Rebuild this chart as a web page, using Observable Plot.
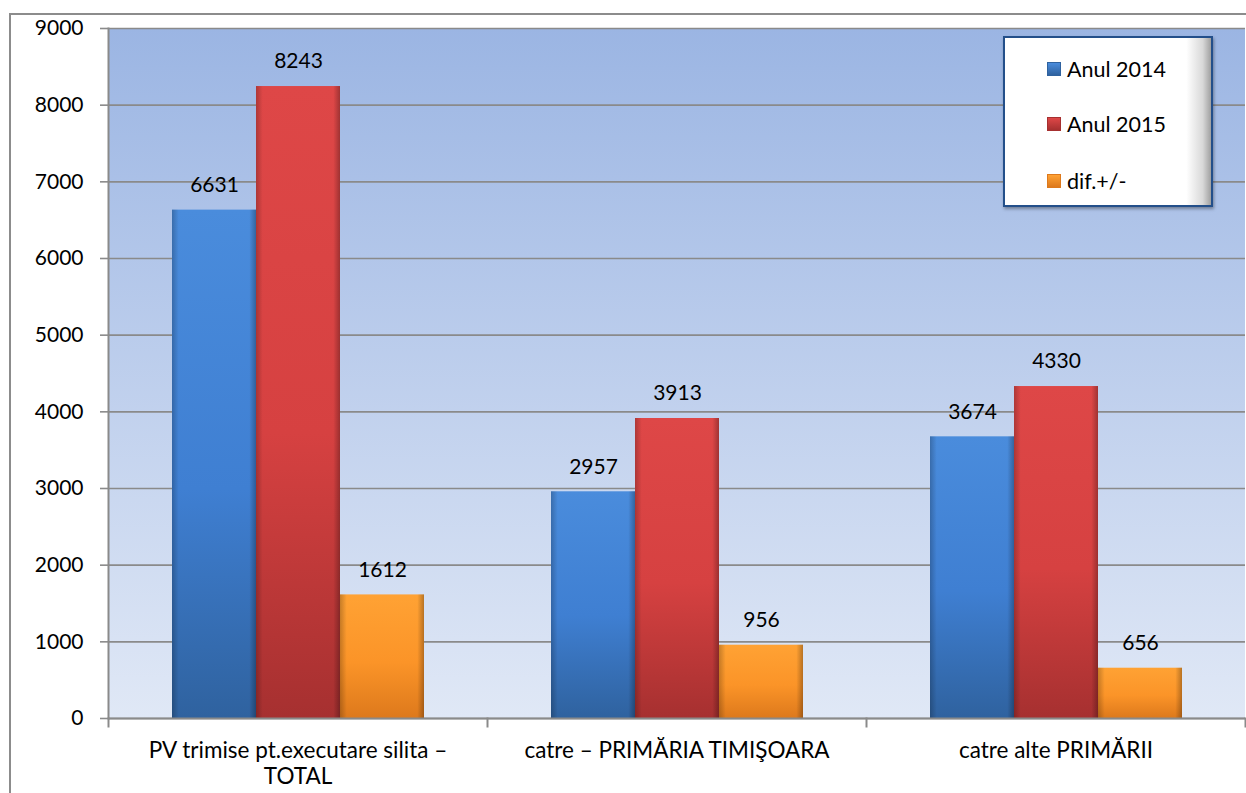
<!DOCTYPE html>
<html>
<head>
<meta charset="utf-8">
<script src="https://cdn.jsdelivr.net/npm/d3@7"></script>
<script src="https://cdn.jsdelivr.net/npm/@observablehq/plot@0.6"></script>
<style>
  html, body { margin: 0; padding: 0; background: #fff; }
  #wrap { position: relative; width: 1246px; height: 793px; overflow: hidden; font-family: Lato, "Open Sans", sans-serif; }
  #border { position: absolute; left: 9px; top: 13px; width: 1260px; height: 820px; border: 2px solid #8c8c8c; box-sizing: border-box; }
  #bg { position: absolute; left: 108px; top: 28px; width: 1137px; height: 690px; background: linear-gradient(to bottom, #9bb5e3, #e0e8f6); }
  #chart { position: absolute; left: 0; top: 0; }
  #legend { position: absolute; left: 1003px; top: 36px; width: 210px; height: 171px; box-sizing: border-box;
            border: 2.5px solid #234f8a; background: linear-gradient(to right, #ffffff 0%, #ffffff 88%, #d8d8d8 96%, #a0a0a0 100%);
            box-shadow: 1px 2px 3px rgba(0,0,0,0.35); }
  .item { position: absolute; left: 42px; display: flex; align-items: center; font-size: 21.5px; color: #000; }
  .sw { width: 14px; height: 14px; margin-right: 6px; box-sizing: border-box; }
</style>
</head>
<body>
<div id="wrap">
  <div id="border"></div>
  <div id="bg"></div>
  <div id="chart"></div>
  <div id="legend"></div>
</div>
<script>
// ---- data ----
const categories = ["PV trimise pt.executare silita –\nTOTAL", "catre – PRIMĂRIA TIMIŞOARA", "catre alte PRIMĂRII"];
const series = ["Anul 2014", "Anul 2015", "dif.+/-"];
const values2014 = [6631, 2957, 3674];
const values2015 = [8243, 3913, 4330];
const valuesDif = [1612, 956, 656];
const yTicks = [0, 1000, 2000, 3000, 4000, 5000, 6000, 7000, 8000, 9000];

const seriesValues = [values2014, values2015, valuesDif];
const data = categories.flatMap((c, i) => series.map((s, j) => ({cat: c, series: s, value: seriesValues[j][i]})));

const gradIds = ["gBlue", "gRed", "gOrange"];
const gradStops = [
  ["#4a8cdc", "#3f7fd2", "#2f629f"],
  ["#de4747", "#d64141", "#a63030"],
  ["#ffa234", "#fb9428", "#dd791c"]
];

const grid = "#8a8a8a";

const chart = Plot.plot({
  width: 1246,
  height: 793,
  marginLeft: 108,
  marginRight: 1,
  marginTop: 28,
  marginBottom: 75,
  style: {fontFamily: "Lato, 'Open Sans', sans-serif", fontSize: "21px", color: "#000", background: "transparent", overflow: "visible"},
  fx: {domain: categories, padding: 0, label: null},
  x: {domain: series, paddingInner: 0, paddingOuter: 0.75, axis: null},
  y: {domain: [0, 9000], label: null},
  color: {domain: series, range: gradIds.map(id => `url(#${id})`)},
  marks: [
    Plot.gridY(yTicks, {stroke: grid, strokeOpacity: 1, strokeWidth: 1.6}),
    Plot.barY(data, {fx: "cat", x: "series", y: "value", fill: "series", ariaLabel: "bars"}),
    Plot.barY(data, {fx: "cat", x: "series", y: "value", fill: "url(#gEdge)", ariaLabel: "bevel"}),
    Plot.ruleY([0], {stroke: grid, strokeWidth: 2}),
    Plot.text(data, {fx: "cat", x: "series", y: "value", text: d => String(d.value), dy: -25, fontSize: 21, fill: "#000"}),
    Plot.axisY(yTicks, {tickSize: 8, tickPadding: 17, fontSize: 21, stroke: grid, strokeWidth: 1.6, fill: "#000", label: null, tickFormat: d => String(d)}),
    Plot.axisFx({anchor: "bottom", tickSize: 0, tickPadding: 22, fontSize: 22.5, lineHeight: 1.12, fill: "#000", label: null}),
    Plot.frame({anchor: "left", facetAnchor: "left", stroke: grid, strokeWidth: 2}),
    Plot.frame({anchor: "left", insetTop: 690, insetBottom: -8, stroke: grid, strokeWidth: 2}),
    Plot.frame({anchor: "right", facetAnchor: "right", insetTop: 690, insetBottom: -8, stroke: grid, strokeWidth: 2})
  ]
});

// gradients
const ns = "http://www.w3.org/2000/svg";
const defs = document.createElementNS(ns, "defs");
function linGrad(id, stops, horizontal) {
  const g = document.createElementNS(ns, "linearGradient");
  g.setAttribute("id", id);
  g.setAttribute("x1", "0"); g.setAttribute("y1", "0");
  g.setAttribute("x2", horizontal ? "1" : "0"); g.setAttribute("y2", horizontal ? "0" : "1");
  stops.forEach(([off, col, op]) => {
    const s = document.createElementNS(ns, "stop");
    s.setAttribute("offset", off);
    s.setAttribute("stop-color", col);
    if (op != null) s.setAttribute("stop-opacity", op);
    g.appendChild(s);
  });
  defs.appendChild(g);
}
gradIds.forEach((id, i) => linGrad(id, [["0", gradStops[i][0]], ["0.55", gradStops[i][1]], ["1", gradStops[i][2]]]));
linGrad("gEdge", [["0", "#000", 0.22], ["0.08", "#000", 0.0], ["0.92", "#000", 0.0], ["1", "#000", 0.28]], true);
chart.insertBefore(defs, chart.firstChild);

chart.querySelectorAll('g[aria-label="bars"]').forEach(g => g.style.filter = "drop-shadow(2px 3px 2px rgba(0,0,0,0.35))");

document.getElementById("chart").appendChild(chart);

// legend
const legend = document.getElementById("legend");
const legendTops = [18, 73, 130];
series.forEach((s, i) => {
  const item = document.createElement("div");
  item.className = "item";
  item.style.top = legendTops[i] + "px";
  const sw = document.createElement("div");
  sw.className = "sw";
  sw.style.background = `linear-gradient(to bottom, ${gradStops[i][0]}, ${gradStops[i][2]})`;
  sw.style.border = `1px solid ${gradStops[i][2]}`;
  const t = document.createElement("span");
  t.textContent = s;
  item.appendChild(sw);
  item.appendChild(t);
  legend.appendChild(item);
});
</script>
</body>
</html>
